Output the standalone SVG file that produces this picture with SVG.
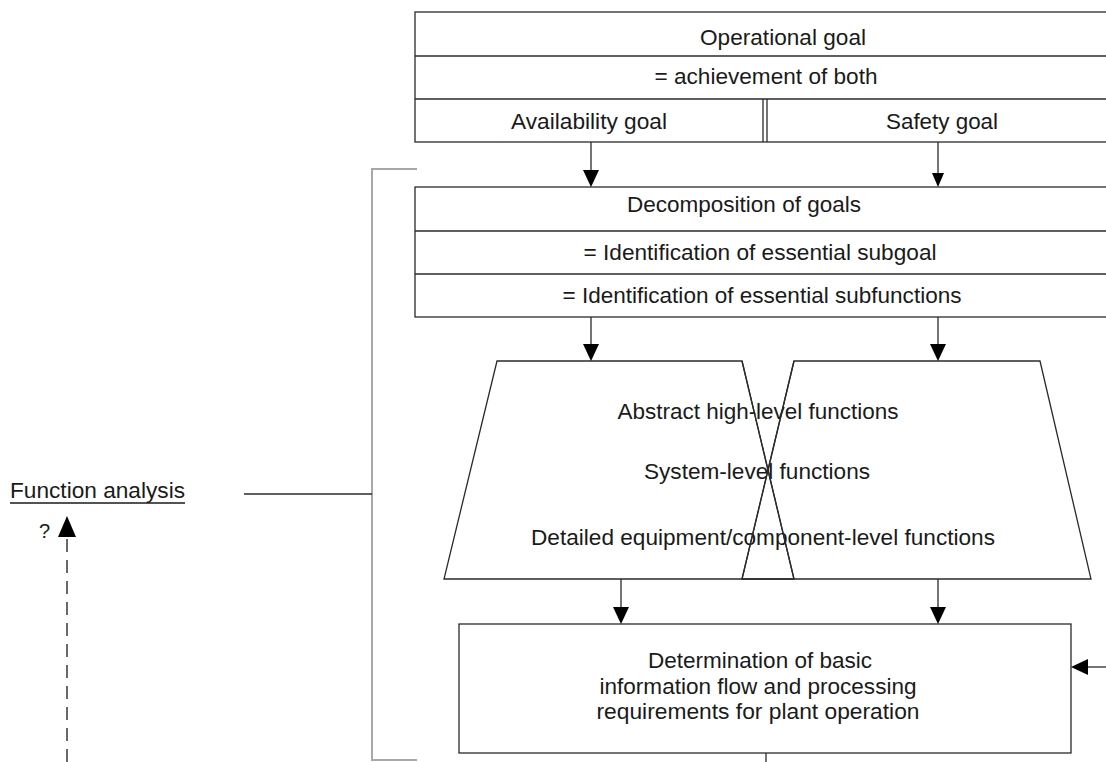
<svg xmlns="http://www.w3.org/2000/svg" width="1106" height="762" viewBox="0 0 1106 762">
<defs>
<style>
.t{font-family:"Liberation Sans",Arial,sans-serif;font-size:22.5px;fill:#1a1a1a;text-anchor:middle}
.box{fill:#fff;stroke:#2a2a2a;stroke-width:1.3}
.ln{stroke:#2a2a2a;stroke-width:1.3;fill:none}
.br{stroke:#a8a8a8;stroke-width:2;fill:none}
.ah{fill:#000}
</style>
</defs>
<rect width="1106" height="762" fill="#fff"/>

<g id="bracket">
<polyline class="br" points="417,169 372,169 372,760 417,760"/>
</g>

<g id="operational-goal">
<rect class="box" x="415" y="12" width="700" height="130"/>
<line class="ln" x1="415" y1="56" x2="1106" y2="56"/>
<line class="ln" x1="415" y1="99" x2="1106" y2="99"/>
<line class="ln" x1="763" y1="99" x2="763" y2="142"/>
<line class="ln" x1="767" y1="99" x2="767" y2="142"/>
<text class="t" x="783" y="45" textLength="166" lengthAdjust="spacingAndGlyphs">Operational goal</text>
<text class="t" x="766" y="84" textLength="223" lengthAdjust="spacingAndGlyphs">= achievement of both</text>
<text class="t" x="589" y="129" textLength="156" lengthAdjust="spacingAndGlyphs">Availability goal</text>
<text class="t" x="942" y="129" textLength="112" lengthAdjust="spacingAndGlyphs">Safety goal</text>
</g>

<g id="decomposition">
<rect class="box" x="415" y="187" width="700" height="130"/>
<line class="ln" x1="415" y1="231" x2="1106" y2="231"/>
<line class="ln" x1="415" y1="274" x2="1106" y2="274"/>
<text class="t" x="744" y="212" textLength="234" lengthAdjust="spacingAndGlyphs">Decomposition of goals</text>
<text class="t" x="760" y="260" textLength="353" lengthAdjust="spacingAndGlyphs">= Identification of essential subgoal</text>
<text class="t" x="762" y="303" textLength="399" lengthAdjust="spacingAndGlyphs">= Identification of essential subfunctions</text>
</g>

<g id="functions">
<polygon class="box" points="497,361 742,361 794,579 444,579"/>
<polygon class="box" style="fill:none" points="794,361 1040,361 1091,579 742,579"/>
<text class="t" x="758" y="419" textLength="281" lengthAdjust="spacingAndGlyphs">Abstract high-level functions</text>
<text class="t" x="757" y="479" textLength="226" lengthAdjust="spacingAndGlyphs">System-level functions</text>
<text class="t" x="763" y="545" textLength="464" lengthAdjust="spacingAndGlyphs">Detailed equipment/component-level functions</text>
<line class="ln" x1="742" y1="361" x2="794" y2="579"/>
<line class="ln" x1="794" y1="361" x2="742" y2="579"/>
</g>

<g id="determination">
<rect class="box" x="459" y="624" width="612" height="129"/>
<text class="t" x="760" y="668" textLength="224" lengthAdjust="spacingAndGlyphs">Determination of basic</text>
<text class="t" x="758" y="694" textLength="317" lengthAdjust="spacingAndGlyphs">information flow and processing</text>
<text class="t" x="758" y="719" textLength="323" lengthAdjust="spacingAndGlyphs">requirements for plant operation</text>
</g>

<g id="function-analysis">
<text x="10" y="498" style="font-family:'Liberation Sans',Arial,sans-serif;font-size:22.5px;fill:#1a1a1a" textLength="175" lengthAdjust="spacingAndGlyphs">Function analysis</text>
<line x1="10" y1="503" x2="185" y2="503" stroke="#1a1a1a" stroke-width="1.5"/>
<text x="39" y="538" style="font-family:'Liberation Sans',Arial,sans-serif;font-size:20px;fill:#1a1a1a">?</text>
</g>

<g id="connectors">
<line class="ln" x1="591" y1="142" x2="591" y2="172"/>
<polygon class="ah" points="583,170 599,170 591,187"/>
<line class="ln" x1="938" y1="142" x2="938" y2="174"/>
<polygon class="ah" points="932,173 944,173 938,187"/>

<line class="ln" x1="591" y1="317" x2="591" y2="346"/>
<polygon class="ah" points="583,344 599,344 591,361"/>
<line class="ln" x1="938" y1="317" x2="938" y2="346"/>
<polygon class="ah" points="930,344 946,344 938,361"/>

<line class="ln" x1="621" y1="579" x2="621" y2="609"/>
<polygon class="ah" points="613,607 629,607 621,624"/>
<line class="ln" x1="938" y1="579" x2="938" y2="609"/>
<polygon class="ah" points="930,607 946,607 938,624"/>

<line class="ln" x1="1106" y1="667" x2="1086" y2="667"/>
<polygon class="ah" points="1071,667 1088,659 1088,675"/>

<line class="ln" x1="766" y1="753" x2="766" y2="762"/>

<line class="ln" x1="244" y1="494" x2="372" y2="494"/>

<line x1="67" y1="762" x2="67" y2="536" stroke="#1a1a1a" stroke-width="1.3" stroke-dasharray="13,8"/>
<polygon class="ah" points="67,516 58,537 76,537"/>
</g>
</svg>
